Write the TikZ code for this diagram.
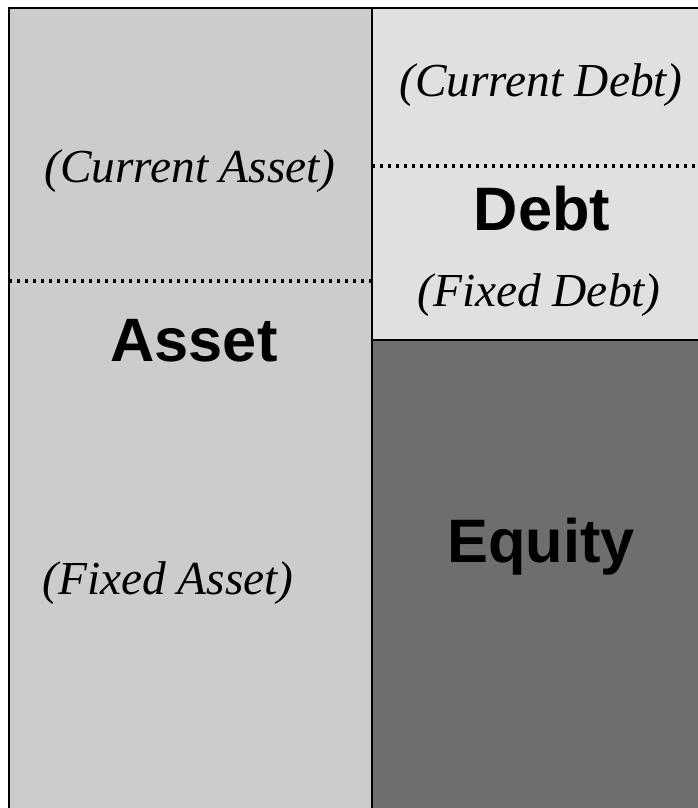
\documentclass[tikz,border=0pt]{standalone}
\usepackage{fontspec}
\setmainfont{Liberation Serif}
\newfontfamily\headfont{Liberation Sans}
\definecolor{assetgray}{HTML}{CCCCCC}
\definecolor{debtgray}{HTML}{E0E0E0}
\definecolor{equitygray}{HTML}{6E6E6E}
\tikzset{
  subpart/.style={font=\fontsize{35.5}{36}\selectfont\itshape,anchor=base,inner sep=0pt},
  mainpart/.style={font=\headfont\bfseries\fontsize{46}{46}\selectfont,anchor=base,inner sep=0pt},
  splitline/.style={line width=2.6pt,dash pattern=on 2.6pt off 3.4pt}
}
\begin{document}
\begin{tikzpicture}[x=.75pt,y=-.75pt,line width=2.1pt]
  \useasboundingbox (0,0) rectangle (698,808);
  \path
  (9,8) coordinate (TL)
  (372,8) coordinate (TM)
  (698,8) coordinate (TR)
  (9,808) coordinate (BL)
  (372,808) coordinate (BM)
  (698,808) coordinate (BR)
  (372,340) coordinate (E)
  (698,340) coordinate (E')
  (9,281) coordinate (A1)
  (372,281) coordinate (A2)
  (372,166) coordinate (D1)
  (698,166) coordinate (D2)
  ;
  % blocks
  \fill[assetgray] (TL) rectangle (BM);
  \fill[debtgray] (TM) rectangle (E');
  \fill[equitygray] (E) rectangle (BR);
  \draw (BL)--(TL)--(TR) (TM)--(BM) (E)--(E');
  \draw[splitline] (A1)--(A2) (D1)--(D2);
  % texts
  \node[subpart] (curasset) at (190,182) {(Current Asset)};
  \node[mainpart] (asset) at (194,361) {Asset};
  \node[subpart] (fixasset) at (168,594) {(Fixed Asset)};
  \node[subpart] (curdebt) at (541,96) {(Current Debt)};
  \node[mainpart] (debt) at (542,230) {Debt};
  \node[subpart] (fixdebt) at (539,306) {(Fixed Debt)};
  \node[mainpart] (equity) at (541,562) {Equity};
\end{tikzpicture}
\end{document}
